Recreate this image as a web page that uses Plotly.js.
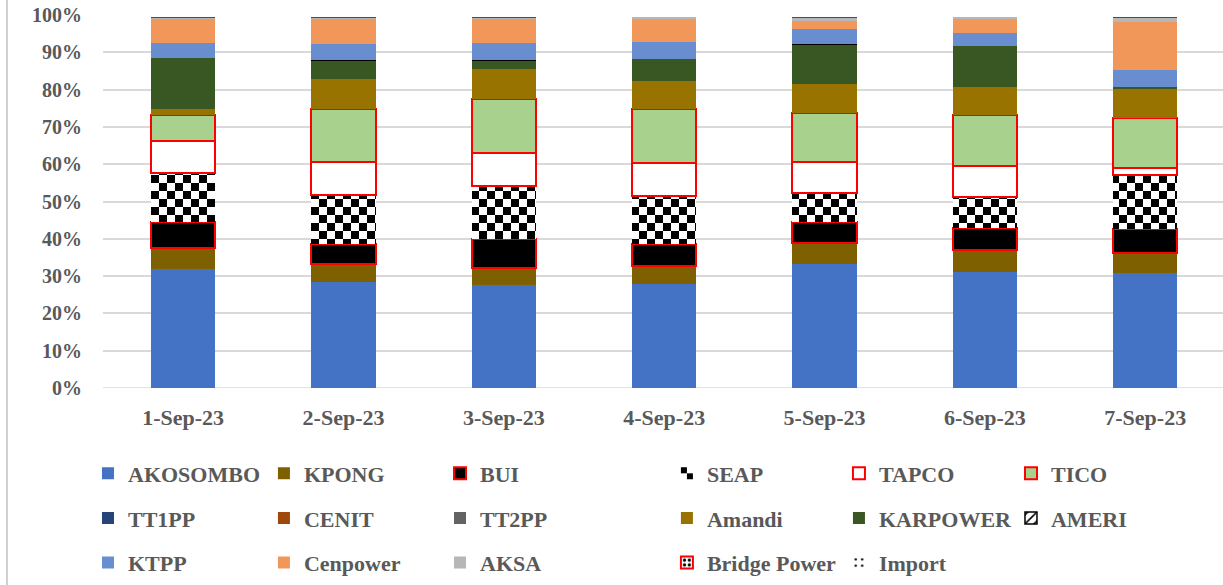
<!DOCTYPE html>
<html>
<head>
<meta charset="utf-8">
<script src="https://cdn.plot.ly/plotly-3.0.1.min.js"></script>
<style>html,body{margin:0;padding:0;background:#fff;}#chart{width:1223px;height:585px;}</style>
</head>
<body>
<div id="chart"></div>
<script>
// ---- data (percent share of generation) ----
var dates = ['1-Sep-23','2-Sep-23','3-Sep-23','4-Sep-23','5-Sep-23','6-Sep-23','7-Sep-23'];
var AKOSOMBO    = [31.9, 28.4, 27.5, 27.9, 33.2, 31.2, 30.8];
var KPONG       = [5.6, 4.8, 4.8, 4.9, 5.6, 5.7, 5.4];
var BUI         = [7.0, 5.5, 7.6, 5.8, 5.8, 5.9, 6.4];
var SEAP        = [13.2, 13.1, 14.3, 12.9, 7.6, 8.3, 14.4];
var TAPCO       = [8.4, 8.7, 8.8, 8.8, 8.3, 8.5, 2.1];
var TICO        = [7.1, 14.2, 14.5, 14.4, 13.2, 13.5, 13.2];
var TT1PP       = [0, 0, 0, 0, 0, 0, 0];
var CENIT       = [0, 0, 0, 0, 0, 0, 0];
var TT2PP       = [0, 0, 0, 0, 0, 0, 0];
var Amandi      = [1.5, 8.1, 8.0, 7.7, 7.7, 7.5, 7.8];
var KARPOWER    = [13.9, 5.1, 2.4, 5.9, 10.7, 11.2, 0.7];
var AMERI       = [0, 0, 0, 0, 0, 0, 0];
var KTPP        = [4.0, 4.4, 4.7, 4.5, 4.1, 3.4, 4.5];
var Cenpower    = [6.2, 6.5, 6.3, 6.3, 2.1, 3.7, 12.7];
var AKSA        = [0.6, 0.6, 0.6, 0.5, 1.2, 0.7, 1.5];
var BridgePower = [0, 0, 0, 0, 0, 0, 0];
var Import      = [0.6, 0.6, 0.5, 0.4, 0.5, 0.4, 0.5];
var yTicks = [0, 10, 20, 30, 40, 50, 60, 70, 80, 90, 100];
var yTickText = yTicks.map(function (v) { return v + '%'; });

var FONT = 'Liberation Serif, Times New Roman, serif';
var RED = '#FF0000';

function bar(name, y, legend, opts) {
  var t = {
    type: 'bar', name: name, x: dates, y: y,
    legend: legend, legendgroup: name,
    marker: {color: opts.color || '#000', line: {width: opts.lw || 0, color: opts.lc || 'rgba(0,0,0,0)'}},
    hoverinfo: 'name+y'
  };
  if (opts.pattern) t.marker.pattern = opts.pattern;
  return t;
}

var data = [
  bar('AKOSOMBO', AKOSOMBO, 'legend',  {color: '#4472C4'}),
  bar('KPONG',    KPONG,    'legend2', {color: '#7F6000'}),
  bar('BUI',      BUI,      'legend3', {color: '#000000', lw: 2, lc: RED}),
  bar('SEAP',     SEAP,     'legend4', {color: '#000000'}),
  bar('TAPCO',    TAPCO,    'legend5', {color: '#FFFFFF', lw: 2, lc: RED}),
  bar('TICO',     TICO,     'legend6', {color: '#A9D18E', lw: 2, lc: RED}),
  bar('TT1PP',    TT1PP,    'legend',  {color: '#264478'}),
  bar('CENIT',    CENIT,    'legend2', {color: '#9E480E'}),
  bar('TT2PP',    TT2PP,    'legend3', {color: '#636363'}),
  bar('Amandi',   Amandi,   'legend4', {color: '#997300'}),
  bar('KARPOWER', KARPOWER, 'legend5', {color: '#385723'}),
  bar('AMERI',    AMERI,    'legend6', {color: '#FFFFFF', lw: 1.5, lc: '#000000',
        pattern: {shape: '/', fgcolor: '#000000', bgcolor: '#FFFFFF', size: 8, solidity: 0.25}}),
  bar('KTPP',     KTPP,     'legend',  {color: '#698ED0'}),
  bar('Cenpower', Cenpower, 'legend2', {color: '#F1975A'}),
  bar('AKSA',     AKSA,     'legend3', {color: '#B7B7B7'}),
  bar('Bridge Power', BridgePower, 'legend4', {color: '#FFFFFF', lw: 2, lc: RED,
        pattern: {shape: '.', fgcolor: '#000000', bgcolor: '#FFFFFF', size: 6, solidity: 0.35}}),
  bar('Import',   Import,   'legend5', {color: '#FFFFFF',
        pattern: {shape: '.', fgcolor: '#000000', bgcolor: '#FFFFFF', size: 8, solidity: 0.12}})
];

var legFont = {family: FONT, size: 22, color: '#595959', weight: 'bold'};
function leg(xp) {
  return {x: xp - 0.0045, y: -0.173, xanchor: 'left', yanchor: 'top', orientation: 'v',
          font: legFont, bgcolor: 'rgba(0,0,0,0)', borderwidth: 0,
          traceorder: 'grouped', tracegroupgap: 13, itemclick: false, itemdoubleclick: false};
}

var layout = {
  width: 1223, height: 585,
  margin: {l: 103, r: 0, t: 15, b: 197, autoexpand: false},
  paper_bgcolor: '#FFFFFF', plot_bgcolor: '#FFFFFF',
  barmode: 'stack', bargap: 0.6,
  showlegend: true,
  font: {family: FONT, color: '#595959'},
  xaxis: {type: 'category', range: [-0.5, 6.485], showgrid: false, zeroline: false,
          showline: false, ticks: '', ticklabelstandoff: 14, automargin: false,
          tickfont: {family: FONT, size: 22, color: '#595959', weight: 'bold'}, fixedrange: true},
  yaxis: {range: [0, 100], tickmode: 'array', tickvals: yTicks, ticktext: yTickText, showgrid: true,
          gridcolor: '#D9D9D9', gridwidth: 1.5, zeroline: false, showline: false, ticks: '',
          ticklabelstandoff: 20, automargin: false,
          tickfont: {family: FONT, size: 20, color: '#595959', weight: 'bold'}, fixedrange: true},
  legend:  leg(-0.0089),
  legend2: leg(0.1482),
  legend3: leg(0.3054),
  legend4: leg(0.508),
  legend5: leg(0.6616),
  legend6: leg(0.8152),
  shapes: [
    {type: 'line', xref: 'paper', yref: 'paper', x0: -0.0857, x1: -0.0857, y0: -0.53, y1: 1.05,
     line: {color: '#D0D0D0', width: 2}},
    {type: 'line', xref: 'paper', yref: 'y', x0: 0, x1: 1, y0: 0, y1: 0, layer: 'below',
     line: {color: '#D9D9D9', width: 1.5}}
  ]
};

var gd = document.getElementById('chart');

function applyChecker() {
  var defs = gd.querySelector('.main-svg defs');
  if (!defs) return;
  if (!document.getElementById('seapChecker')) {
    var ns = 'http://www.w3.org/2000/svg';
    var p = document.createElementNS(ns, 'pattern');
    p.setAttribute('id', 'seapChecker');
    p.setAttribute('patternUnits', 'userSpaceOnUse');
    p.setAttribute('width', '16'); p.setAttribute('height', '16');
    var r0 = document.createElementNS(ns, 'rect');
    r0.setAttribute('width', '16'); r0.setAttribute('height', '16'); r0.setAttribute('fill', '#FFFFFF');
    var r1 = document.createElementNS(ns, 'rect');
    r1.setAttribute('width', '8'); r1.setAttribute('height', '8'); r1.setAttribute('fill', '#000000');
    var r2 = document.createElementNS(ns, 'rect');
    r2.setAttribute('x', '8'); r2.setAttribute('y', '8');
    r2.setAttribute('width', '8'); r2.setAttribute('height', '8'); r2.setAttribute('fill', '#000000');
    p.appendChild(r0); p.appendChild(r1); p.appendChild(r2);
    defs.appendChild(p);
  }
  gd.querySelectorAll('.barlayer .trace').forEach(function (g) {
    var d = g.__data__;
    if (d && d[0] && d[0].trace && d[0].trace.name === 'SEAP') {
      g.querySelectorAll('path').forEach(function (pth) { pth.style.fill = 'url(#seapChecker)'; });
    }
  });
  gd.querySelectorAll('g.traces').forEach(function (g) {
    var d = g.__data__;
    if (d && d[0] && d[0].trace && d[0].trace.name === 'SEAP') {
      g.querySelectorAll('.legendpoints path').forEach(function (pth) { pth.style.fill = 'url(#seapChecker)'; });
    }
  });
}

Plotly.newPlot(gd, data, layout, {displayModeBar: false}).then(function () {
  applyChecker();
  gd.on('plotly_afterplot', applyChecker);
});
</script>
</body>
</html>
